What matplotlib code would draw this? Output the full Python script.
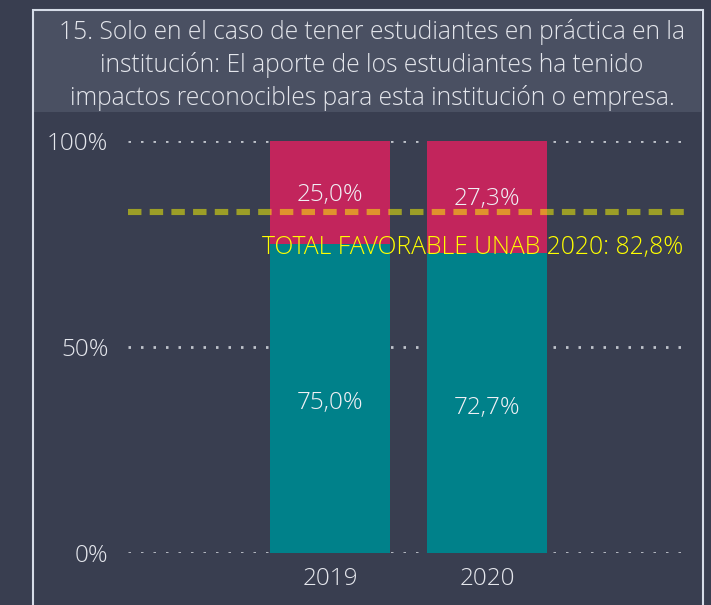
import matplotlib
matplotlib.use("Agg")
import matplotlib.pyplot as plt
from matplotlib.patches import Rectangle

years = ["2019", "2020"]
favorable = [75.0, 72.7]
unfavorable = [25.0, 27.3]
total_ref = 82.8
ref_label = "TOTAL FAVORABLE UNAB 2020: 82,8%"
yticks = [0, 50, 100]
ytick_labels = ["0%", "50%", "100%"]
title = ("15. Solo en el caso de tener estudiantes en práctica en la\n"
         "institución: El aporte de los estudiantes ha tenido\n"
         "impactos reconocibles para esta institución o empresa.")

plt.rcParams['font.family'] = ['Open Sans', 'DejaVu Sans']
plt.rcParams['font.weight'] = 'light'

W, H = 711, 605
bg = '#393e50'
fig = plt.figure(figsize=(W/100, H/100), dpi=100, facecolor=bg)

# title box and frame
fig.patches.append(Rectangle((33/W, 1-112/H), (701-33)/W, (112-11)/H,
                             transform=fig.transFigure, facecolor='#4a5062',
                             edgecolor='none', zorder=0))
fig.patches.append(Rectangle((33/W, -0.05), (703-33)/W, 1.05-10/H,
                             transform=fig.transFigure, facecolor='none',
                             edgecolor='#d6dce8', linewidth=1.5, zorder=1))
fig.text(372/W, 1-65/H, title, ha='center', va='center', color='#e4e6ec',
         fontsize=17.7, linespacing=1.33, fontweight='light')

ax = fig.add_axes([128/W, 1-553/H, (688-128)/W, (553-141)/H])
ax.set_facecolor('none')
x = list(range(len(years)))
bw = 0.764
teal = '#00818a'
red = '#c2255c'
ax.bar(x, favorable, width=bw, color=teal, zorder=2)
ax.bar(x, unfavorable, width=bw, bottom=favorable, color=red, zorder=2)

for xi, f, u in zip(x, favorable, unfavorable):
    ax.text(xi, f/2 - 1.2, f"{f:.1f}%".replace('.', ','), ha='center', va='center',
            color='#f0f0f5', fontsize=17.5, zorder=3, fontweight='light')
    ax.text(xi, f + u/2 - 0.5, f"{u:.1f}%".replace('.', ','), ha='center', va='center',
            color='#f0f0f5', fontsize=17.5, zorder=3, fontweight='light')

ax.set_xlim(-1.287, 2.28)
ax.set_ylim(0, 100)
for yv in yticks:
    ax.axhline(yv, color='#c0c4cc', linestyle=(0, (0.9, 3.6)), linewidth=2.0, zorder=1)

ax.axhline(total_ref, color=(1, 1, 0, 0.5), linestyle=(0, (2.2, 1.35)),
           linewidth=4.4, zorder=4)
ax.text(2.25, total_ref - 8.6, ref_label, ha='right', va='center',
        color='#ffff00', fontsize=17.8, zorder=5, fontweight='light')

ax.set_yticks(yticks)
ax.set_yticklabels(ytick_labels)
ax.set_xticks(x)
ax.set_xticklabels(years)
ax.tick_params(length=0, colors='#e4e6ec', labelsize=17.5)
ax.tick_params(axis='y', pad=14)
ax.tick_params(axis='x', pad=10)
for s in ax.spines.values():
    s.set_visible(False)

fig.savefig('out.png', dpi=100, facecolor=bg)
